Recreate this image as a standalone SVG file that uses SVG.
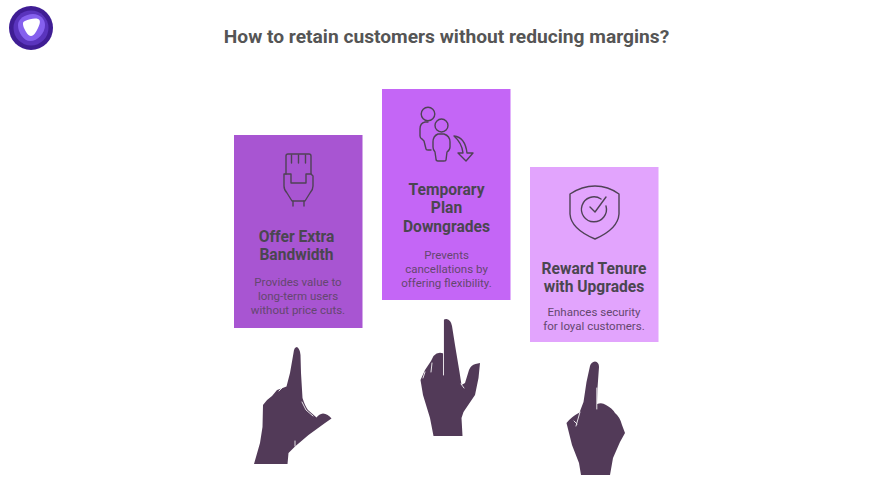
<svg xmlns="http://www.w3.org/2000/svg" width="876" height="493" viewBox="0 0 876 493">
<style>
text{font-family:Roboto,"Liberation Sans",sans-serif;text-anchor:middle}
.title{font-size:19.2px;font-weight:700;fill:#555}
.h{font-size:15.6px;font-weight:700;fill:#4a4650}
.d{font-size:11.5px;fill:#64476f}
.i{fill:none;stroke:#4f4256;stroke-width:1.4;stroke-linecap:round;stroke-linejoin:round}
.hand{fill:#523a58}
.slit{fill:none;stroke:#fff;stroke-width:1;stroke-linecap:round;opacity:.85}
</style>
<rect width="876" height="493" fill="#fff"/>
<g id="logo">
<circle cx="31" cy="28" r="22" fill="#3f1d94"/>
<circle cx="31" cy="28" r="17.500" fill="#5a34bd"/>
<path d="M33 14C40 14 45 19 45 25C45 33 38 41 30 41C24 41 18 33 18 25C18 19 25 14 33 14Z" fill="#8560ee"/>
<path d="M25 21C29 19 35 18 38 19C41 20 40 24 38 28C36 32 34 36 31 36C28 36 26 32 24 28C23 25 22 22 25 21Z" fill="#fff"/>
</g>
<text class="title" x="446.500" y="43">How to retain customers without reducing margins?</text>
<g id="card-bandwidth">
<rect x="234" y="135" width="128.500" height="193" fill="#a855d2"/>
<g class="i">
<path d="M286 174V156Q286 154 288 154H309Q311 154 311 156V174"/>
<path d="M291.500 155V163M298.500 155V163M305.500 155V163"/>
<path d="M291 174H284V186Q284 190 287 193L292 201H305L310 193Q313 190 313 186V176L311 174H306V183H291V174Z"/>
<path d="M293 201V206M304 201V206"/>
</g>
<text class="h" x="296.500" y="241.500">Offer Extra</text>
<text class="h" x="296.500" y="260">Bandwidth</text>
<text class="d" x="298" y="286">Provides value to</text>
<text class="d" x="298" y="300">long-term users</text>
<text class="d" x="298" y="314">without price cuts.</text>
</g>
<g id="card-downgrades">
<rect x="382" y="89" width="128.500" height="211" fill="#c466f6"/>
<g class="i">
<circle cx="428" cy="114" r="6.800"/>
<circle cx="441.500" cy="125.500" r="6.500"/>
<path d="M428 122H425Q420 123 420 129V136Q420 138 422 139L424 141L426 149Q426 150 428 150H431"/>
<path d="M438 134H444Q450 136 450 142V147Q450 150 447 152L446 160Q446 161 444 161H438Q436 161 436 159L435 152Q433 150 433 147V142Q433 136 438 134Z"/>
<path d="M454 136Q465 137 467 153H473L466 161L458 153H463Q462 143 454 136Z"/>
</g>
<text class="h" x="446.500" y="195">Temporary</text>
<text class="h" x="446.500" y="213">Plan</text>
<text class="h" x="446.500" y="232">Downgrades</text>
<text class="d" x="446.500" y="258.500">Prevents</text>
<text class="d" x="446.500" y="272.500">cancellations by</text>
<text class="d" x="446.500" y="286.500">offering flexibility.</text>
</g>
<g id="card-upgrades">
<rect x="530" y="167" width="128.500" height="175" fill="#e2a4fd"/>
<g class="i">
<path d="M570 194Q582 186 595 186Q608 186 619 194V214Q618 229 595 239Q571 229 570 214Z"/>
<path d="M601 199A12.500 12.500 0 1 0 606 206"/>
<path d="M590 207L595 212L606 197"/>
</g>
<text class="h" x="594" y="274">Reward Tenure</text>
<text class="h" x="594" y="292">with Upgrades</text>
<text class="d" x="594" y="316">Enhances security</text>
<text class="d" x="594" y="330">for loyal customers.</text>
</g>
<g id="hand-left">
<path class="hand" d="M297 347Q300 349 300.500 355L301 373L302.500 398Q305 406 308 410L316.500 417.500Q319 414 323 413.500Q328 414 331.500 418.500L325 423L308.500 435L295 446.500L288.500 453L287.500 464H254L260 443L262.500 427L263 405Q266 400 272 396L277 390L280 389L286.500 386.500L290 373L293.500 353Q294 347 297 347Z"/>
<path class="slit" d="M302 402L306 410L313 416M279 391L283 387M295 441V446"/>
</g>
<g id="hand-middle">
<path class="hand" d="M446.500 319Q451 320 452 326L455 345L459.500 372L461.500 385L465 383L469 370Q471 365 475.500 364L480 363L478.500 378L475 395L463.500 412L461.500 418L462.500 436H433.500L430 418L423 395L420.500 380L425 370L431 361L433.500 356Q438 351 443.500 353.500L443.500 320Q444.500 319 446.500 319Z"/>
<path class="slit" d="M443.500 319V375M432 363L431 372M425 372L423 378M461 384L464 388"/>
</g>
<g id="hand-right">
<path class="hand" d="M595 361.500Q599 362 599 367L597.500 388L597 404Q602 402 606 405Q612 408 615 413Q620 417 622 425L625 433L620 442L613 458L610 475H581L579 463L572 445L566.500 423Q571 417 579.500 412.500L583.500 402L586.500 382L590 366Q591 362 595 361.500Z"/>
<path class="slit" d="M596.800 388L596.800 409M580 412L576 426M574 421L577 424"/>
</g>
</svg>
